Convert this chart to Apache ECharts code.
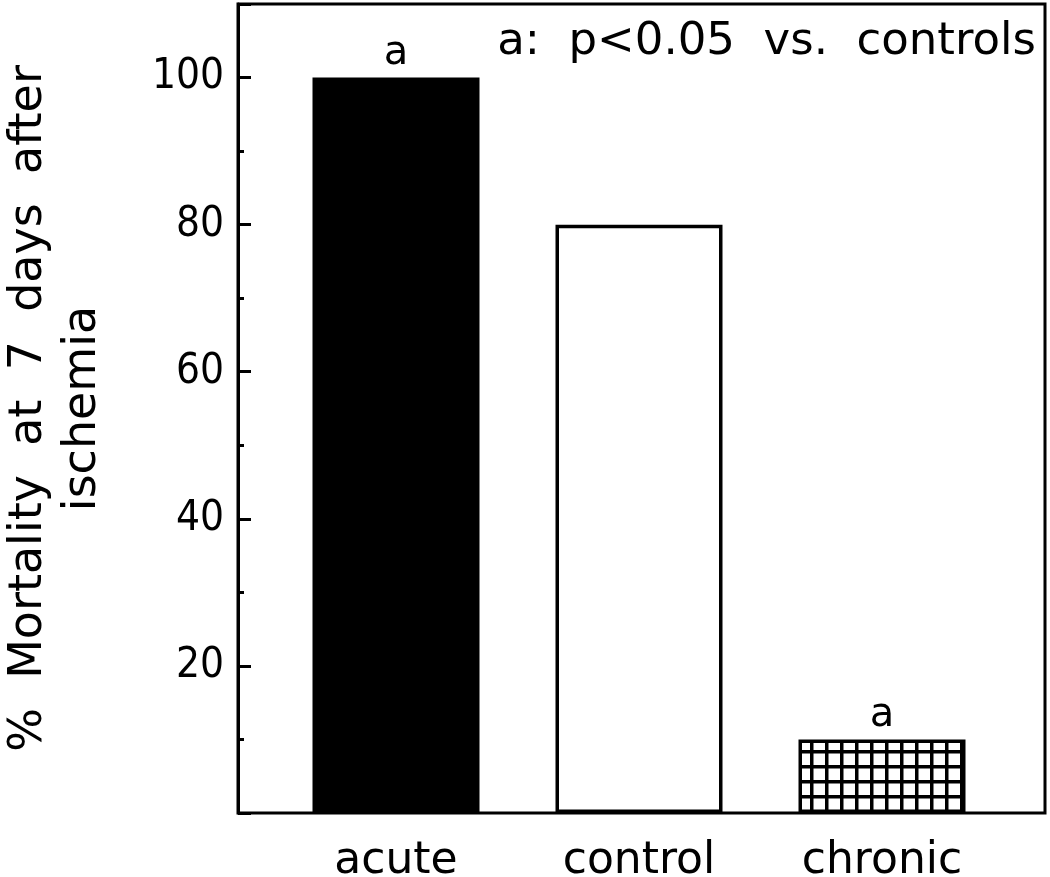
<!DOCTYPE html>
<html>
<head>
<meta charset="utf-8">
<script src="https://cdn.jsdelivr.net/npm/echarts@6/dist/echarts.min.js"></script>
<style>
html,body{margin:0;padding:0;background:#fff;}
#chart{width:1050px;height:877px;}
</style>
</head>
<body>
<div id="chart"></div>
<script>
const categories = ['acute', 'control', 'chronic'];
const mortality = [100, 80, 10];
const sigMarks = ['a', '', 'a'];
const yTickLabels = [20, 40, 60, 80, 100];
const yTitle = '%  Mortality  at  7  days  after\nischemia';
const noteText = 'a:  p<0.05  vs.  controls';

// grid pattern for the chronic bar
const pc = document.createElement('canvas');
pc.width = 15; pc.height = 15;
const pctx = pc.getContext('2d');
pctx.fillStyle = '#fff';
pctx.fillRect(0, 0, 15, 15);
pctx.fillStyle = '#000';
pctx.fillRect(0, 0, 15, 3.5);
pctx.fillRect(0, 0, 3.5, 15);

const fills = ['#000', '#fff', { image: pc, repeat: 'repeat' }];

const chart = echarts.init(document.getElementById('chart'), null, { renderer: 'canvas' });
const FONT = "'DejaVu Sans', sans-serif";
const NUMFONT = "'DejaVu Sans Condensed', 'DejaVu Sans', sans-serif";

chart.setOption({
  animation: false,
  backgroundColor: '#fff',
  grid: [
    { left: 238, right: 5, top: 4, bottom: 64, outerBoundsMode: 'none', containLabel: false,
      show: true, borderColor: '#000', borderWidth: 3, backgroundColor: 'transparent' },
    { left: 274.5, right: 46.5, top: 4, bottom: 64, outerBoundsMode: 'none', containLabel: false }
  ],
  xAxis: [
    { type: 'value', gridIndex: 0, min: 0, max: 1, show: false },
    {
      type: 'category', gridIndex: 1, data: categories,
      axisLine: { show: false }, axisTick: { show: false },
      axisLabel: { color: '#000', fontFamily: FONT, fontSize: 44, margin: 27 }
    }
  ],
  yAxis: [
    {
      type: 'value', gridIndex: 0, min: 0, max: 110, interval: 20,
      axisLine: { show: true, lineStyle: { color: '#000', width: 3 } },
      axisTick: { show: true, inside: true, length: 13, lineStyle: { color: '#000', width: 3 } },
      splitLine: { show: false },
      axisLabel: {
        color: '#000', fontFamily: NUMFONT, fontSize: 42, margin: 14,
        formatter: v => (yTickLabels.indexOf(v) >= 0 ? String(v) : '')
      },
      name: yTitle, nameLocation: 'middle', nameGap: 128,
      nameTextStyle: { color: '#000', fontFamily: FONT, fontSize: 46, lineHeight: 54 }
    },
    {
      type: 'value', gridIndex: 0, min: 0, max: 110, interval: 10, position: 'left',
      axisLine: { show: false },
      axisTick: { show: true, inside: true, length: 6, lineStyle: { color: '#000', width: 3 } },
      splitLine: { show: false }, axisLabel: { show: false }
    },
    { type: 'value', gridIndex: 1, min: 0, max: 110, show: false }
  ],
  series: [{
    type: 'bar',
    xAxisIndex: 1, yAxisIndex: 2,
    barWidth: 167,
    data: mortality.map((v, i) => ({
      value: v,
      itemStyle: { color: fills[i], borderColor: '#000', borderWidth: 3.5 },
      label: { show: sigMarks[i] !== '', formatter: sigMarks[i] }
    })),
    label: { position: 'top', distance: 4, color: '#000', fontFamily: FONT, fontSize: 40 }
  }],
  graphic: [{
    type: 'text', right: 14, top: 20,
    style: { text: noteText, fill: '#000', font: "45px 'DejaVu Sans', sans-serif" }
  }]
});
</script>
</body>
</html>
